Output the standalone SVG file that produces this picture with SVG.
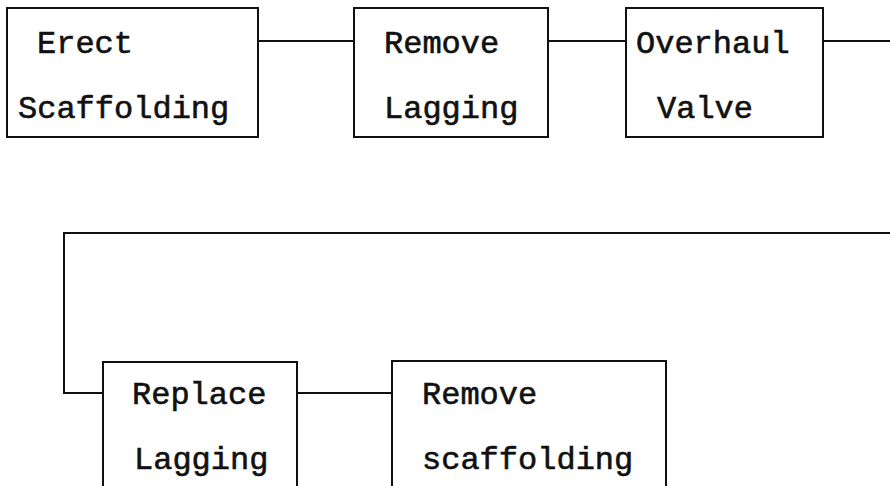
<svg xmlns="http://www.w3.org/2000/svg" width="890" height="486" viewBox="0 0 890 486">
  <style>
    .box { fill: #fff; stroke: #111; stroke-width: 2; }
    .wire { fill: none; stroke: #111; stroke-width: 2; }
    text { font-family: "Liberation Mono", "Courier New", monospace; font-size: 32px; fill: #111; stroke: #111; stroke-width: 0.6; }
  </style>
  <rect width="890" height="486" fill="#fff"/>
  <g id="connectors">
    <line class="wire" x1="258" y1="41" x2="354" y2="41"/>
    <line class="wire" x1="548" y1="41" x2="626" y2="41"/>
    <line class="wire" x1="823" y1="41" x2="890" y2="41"/>
    <polyline class="wire" points="890,233 64,233 64,393 103,393"/>
    <line class="wire" x1="297" y1="393" x2="392" y2="393"/>
  </g>
  <g id="erect-scaffolding">
    <rect class="box" x="7" y="8" width="251" height="129"/>
    <text x="37" y="53">Erect</text>
    <text x="18" y="118">Scaffolding</text>
  </g>
  <g id="remove-lagging">
    <rect class="box" x="354" y="8" width="194" height="129"/>
    <text x="384" y="53">Remove</text>
    <text x="384" y="118">Lagging</text>
  </g>
  <g id="overhaul-valve">
    <rect class="box" x="626" y="8" width="197" height="129"/>
    <text x="636" y="53">Overhaul</text>
    <text x="657" y="118">Valve</text>
  </g>
  <g id="replace-lagging">
    <rect class="box" x="103" y="362" width="194" height="140"/>
    <text x="132" y="404">Replace</text>
    <text x="134" y="469">Lagging</text>
  </g>
  <g id="remove-scaffolding">
    <rect class="box" x="392" y="361" width="274" height="140"/>
    <text x="422" y="404">Remove</text>
    <text x="422" y="469">scaffolding</text>
  </g>
</svg>
